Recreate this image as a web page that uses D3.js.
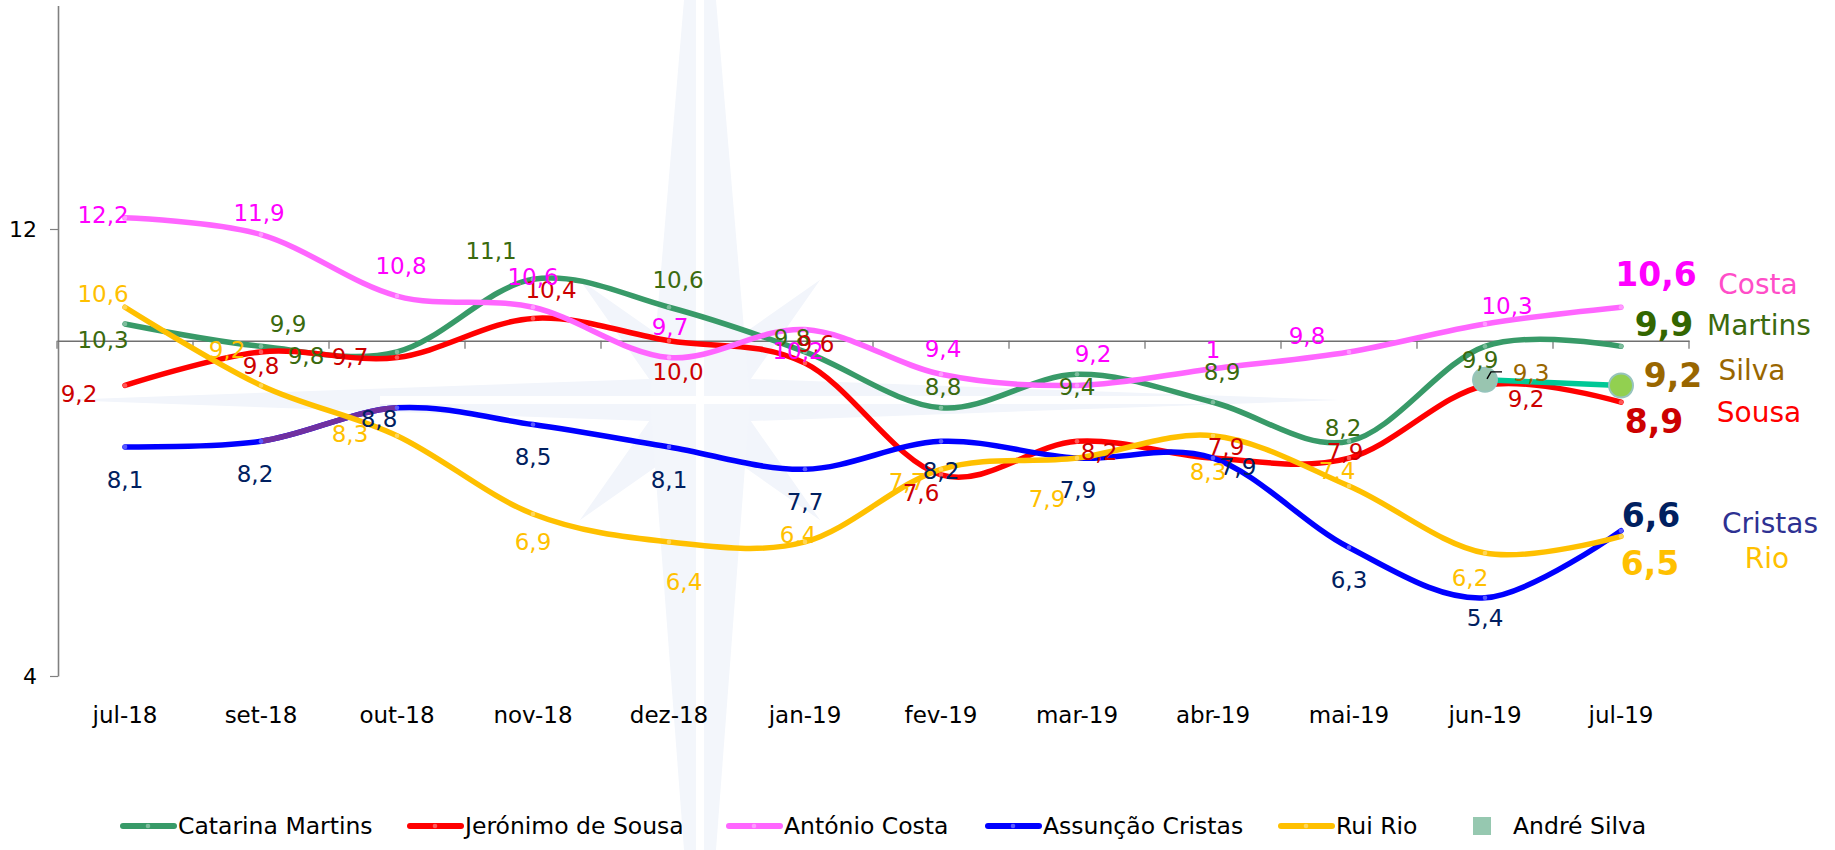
<!DOCTYPE html>
<html>
<head>
<meta charset="utf-8">
<script src="https://cdn.jsdelivr.net/npm/d3@7"></script>
<style>
    body { margin: 0; background: #fff; }
    svg { display: block; font-family: "DejaVu Sans", Verdana, sans-serif; }
</style>
</head>
<body>
<script>
// months on the category axis
const months = ['jul-18', 'set-18', 'out-18', 'nov-18', 'dez-18', 'jan-19', 'fev-19', 'mar-19', 'abr-19', 'mai-19', 'jun-19', 'jul-19'];

// poll values per leader
const martins = [10.3, 9.9, 9.8, 11.1, 10.6, 9.8, 8.8, 9.4, 8.9, 8.2, 9.9, 9.9];
const sousa = [9.2, 9.8, 9.7, 10.4, 10.0, 9.6, 7.6, 8.2, 7.9, 7.9, 9.2, 8.9];
const costa = [12.2, 11.9, 10.8, 10.6, 9.7, 10.2, 9.4, 9.2, 9.5, 9.8, 10.3, 10.6];
const cristas = [8.1, 8.2, 8.8, 8.5, 8.1, 7.7, 8.2, 7.9, 7.9, 6.3, 5.4, 6.6];
const rio = [10.6, 9.2, 8.3, 6.9, 6.4, 6.4, 7.7, 7.9, 8.3, 7.4, 6.2, 6.5];
const silva = [null, null, null, null, null, null, null, null, null, null, 9.3, 9.2];

const yTicks = [4, 12];

// label nudges (px) from each point, hand placed like the original
const martinsNudge = [[-22, 16], [27, -22], [-91, 4], [-42, -28], [9, -27], [-13, -14], [2, -21], [0, 13], [9, -30], [-6, -13], [-5, 14]];
const sousaNudge = [[-46, 9], [0, 14], [-47, -1], [18, -28], [9, 31], [11, -19], [-20, 18], [22, 11], [13, -11], [-4, -6], [41, 14]];
const costaNudge = [[-22, -3], [-2, -22], [4, -30], [0, -30], [1, -31], [-7, 21], [2, -25], [16, -31], [0, -19], [-42, -16], [22, -18]];
const cristasNudge = [[0, 33], [-6, 33], [-18, 11], [0, 32], [0, 33], [0, 33], [0, 30], [1, 32], [25, 9], [0, 33], [0, 20]];
const rioNudge = [[-22, -13], [-34, -35], [-47, -2], [0, 28], [15, 40], [-7, -7], [-34, 13], [-30, 41], [-5, 36], [-12, -15], [-15, 25]];
const silvaNudge = [null, null, null, null, null, null, null, null, null, null, [46, -7]];

// the odd "1" label on Costa in April
const labelOverride = { 'Costa|8': '1' };

// legend item left edges
const legendX = [120, 407, 726, 985, 1278, 1473];

const series = [
    { name: 'Catarina Martins', short: 'Martins', values: martins, nudge: martinsNudge, line: '#389a68', text: '#3b6a0e', endText: '#336600', nameText: '#3b6a0e', end: [43, -22], tag: [138, -21] },
    { name: 'Jerónimo de Sousa', short: 'Sousa', values: sousa, nudge: sousaNudge, line: '#ff0000', text: '#cc0000', endText: '#cc0000', nameText: '#ff0000', end: [33, 19], tag: [138, 10] },
    { name: 'António Costa', short: 'Costa', values: costa, nudge: costaNudge, line: '#ff66ff', text: '#ff00ff', endText: '#ff00ff', nameText: '#ff4dc8', end: [35, -33], tag: [137, -23] },
    { name: 'Assunção Cristas', short: 'Cristas', values: cristas, nudge: cristasNudge, line: '#0000ff', text: '#002060', endText: '#002060', nameText: '#2e3192', end: [30, -15], tag: [149, -7] },
    { name: 'Rui Rio', short: 'Rio', values: rio, nudge: rioNudge, line: '#ffc000', text: '#ffc000', endText: '#ffc000', nameText: '#ffc000', end: [29, 27], tag: [146, 22] },
    { name: 'André Silva', short: 'Silva', values: silva, nudge: silvaNudge, line: '#00c896', text: '#996600', endText: '#996600', nameText: '#996600', end: [52, -10], tag: [131, -15] }
];

const width = 1835, height = 850;

const svg = d3.select('body').append('svg')
    .attr('width', width)
    .attr('height', height);

const x = d3.scaleBand().domain(months).range([57, 1689]);
const y = d3.scaleLinear().domain([4, 16]).range([676, 5.5]);
const cx = m => x(m) + x.bandwidth() / 2;

const fmt = v => d3.format('.1f')(v).replace('.', ',');

// faint compass watermark behind the plot
const wm = svg.append('g').attr('class', 'watermark');
const wc = [700, 400];
const star = [];
const rays = [[0, 430], [45, 170], [90, 640], [135, 170], [180, 450], [225, 170], [270, 640], [315, 170]];
rays.forEach(([deg, r]) => {
    const a = (deg - 90) * Math.PI / 180;
    star.push([wc[0] + Math.cos(a) * r, wc[1] + Math.sin(a) * r]);
    const b = (deg - 90 + 22.5) * Math.PI / 180;
    star.push([wc[0] + Math.cos(b) * 55, wc[1] + Math.sin(b) * 55]);
});
wm.append('path')
    .attr('d', 'M' + star.join('L') + 'Z')
    .attr('fill', '#f2f5fb');
// the tall spike runs off the top and bottom
wm.append('path')
    .attr('d', `M${wc[0] - 16},0L${wc[0] + 16},0L${wc[0] + 50},${wc[1]}L${wc[0] + 16},${height}L${wc[0] - 16},${height}L${wc[0] - 50},${wc[1]}Z`)
    .attr('fill', '#f3f6fb');
wm.append('rect').attr('x', wc[0] - 4).attr('y', 0).attr('width', 8).attr('height', height).attr('fill', '#fff');
wm.append('rect').attr('x', 380).attr('y', wc[1] - 4).attr('width', 820).attr('height', 8).attr('fill', '#fff');

// y axis
const yAxis = svg.append('g')
    .attr('transform', 'translate(58,0)')
    .call(d3.axisLeft(y).tickValues(yTicks).tickFormat(d3.format('d')).tickSize(8).tickPadding(13).tickSizeOuter(0));
yAxis.select('.domain').attr('stroke', '#808080').attr('stroke-width', 1.6);
yAxis.selectAll('.tick line').attr('stroke', '#808080').attr('stroke-width', 1.2);
yAxis.selectAll('.tick text').attr('font-size', 22).attr('fill', '#000').attr('font-family', 'DejaVu Sans');

// category axis crossing at 10, labels sit at the bottom
const y0 = y(10);
const xAxis = svg.append('g')
    .attr('transform', `translate(0,${y0})`)
    .call(d3.axisBottom(x).tickSize(0).tickPadding(366).tickSizeOuter(0));
xAxis.select('.domain').attr('stroke', '#707070').attr('stroke-width', 1.6);
xAxis.selectAll('.tick text').attr('font-size', 23).attr('fill', '#000').attr('font-family', 'DejaVu Sans');

const bounds = months.map(m => x(m)).concat([x(months[months.length - 1]) + x.bandwidth()]);
svg.append('g').selectAll('line')
    .data(bounds)
    .enter().append('line')
    .attr('x1', d => d).attr('x2', d => d)
    .attr('y1', y0).attr('y2', y0 + 8)
    .attr('stroke', '#707070')
    .attr('stroke-width', 1.2);

// smoothed lines like excel
const line = d3.line()
    .defined(d => d.v != null)
    .x(d => cx(d.m))
    .y(d => y(d.v))
    .curve(d3.curveCardinal.tension(0));

const pts = s => s.values.map((v, i) => ({ m: months[i], v, i }));

const lines = svg.append('g').attr('class', 'lines');
series.forEach(s => {
    lines.append('path')
        .datum(pts(s))
        .attr('d', line)
        .attr('fill', 'none')
        .attr('stroke', s.line)
        .attr('stroke-width', 5.5)
        .attr('stroke-linecap', 'round')
        .attr('stroke-linejoin', 'round');

    if (s.short === 'Cristas') {
        // one segment (set-18 -> out-18) was recoloured purple
        svg.append('clipPath').attr('id', 'purpleSeg')
            .append('rect')
            .attr('x', cx(months[1])).attr('y', 0)
            .attr('width', cx(months[2]) - cx(months[1])).attr('height', height);
        lines.append('path')
            .datum(pts(s).slice(0, 4))
            .attr('d', line)
            .attr('clip-path', 'url(#purpleSeg)')
            .attr('fill', 'none')
            .attr('stroke', '#7030a0')
            .attr('stroke-width', 5.5);
    }

    if (s.short !== 'Silva') {
        lines.append('g').selectAll('circle')
            .data(pts(s).filter(d => d.v != null))
            .enter().append('circle')
            .attr('cx', d => cx(d.m))
            .attr('cy', d => y(d.v))
            .attr('r', 2.3)
            .attr('fill', d3.interpolateRgb(s.line, '#ffffff')(0.35));
    }
});

// André Silva markers
const silvaS = series[5];
const silvaPts = pts(silvaS).filter(d => d.v != null);
lines.append('g').selectAll('circle')
    .data(silvaPts)
    .enter().append('circle')
    .attr('cx', d => cx(d.m))
    .attr('cy', d => y(d.v))
    .attr('r', 12)
    .attr('fill', (d, i) => i === 0 ? '#99c5b0' : '#92d050')
    .attr('stroke', '#96c4bc')
    .attr('stroke-width', 2);

// little leader on the 9,3 label
const sp = silvaPts[0];
lines.append('path')
    .attr('d', `M${cx(sp.m) + 2},${y(sp.v) - 1}L${cx(sp.m) + 6},${y(sp.v) - 8}L${cx(sp.m) + 17},${y(sp.v) - 8}`)
    .attr('fill', 'none')
    .attr('stroke', '#000')
    .attr('stroke-width', 1.4);

// data labels
const labels = svg.append('g').attr('class', 'labels');
series.forEach(s => {
    const last = s.values.length - 1;
    const d = pts(s).filter(p => p.v != null && p.i < last);
    labels.append('g').selectAll('text')
        .data(d)
        .enter().append('text')
        .attr('x', p => cx(p.m) + s.nudge[p.i][0])
        .attr('y', p => y(p.v) + s.nudge[p.i][1])
        .attr('text-anchor', 'middle')
        .attr('dominant-baseline', 'central')
        .attr('font-size', 23)
        .attr('fill', s.text)
        .text(p => labelOverride[s.short + '|' + p.i] || fmt(p.v));

    // end value and surname on the right
    const lx = cx(months[last]), ly = y(s.values[last]);
    labels.append('text')
        .attr('x', lx + s.end[0])
        .attr('y', ly + s.end[1])
        .attr('text-anchor', 'middle')
        .attr('dominant-baseline', 'central')
        .attr('font-size', 33)
        .attr('font-weight', 'bold')
        .attr('fill', s.endText)
        .text(fmt(s.values[last]));
    labels.append('text')
        .attr('x', lx + s.tag[0])
        .attr('y', ly + s.tag[1])
        .attr('text-anchor', 'middle')
        .attr('dominant-baseline', 'central')
        .attr('font-size', 28)
        .attr('fill', s.nameText)
        .text(s.short);
});

// legend
const legend = svg.append('g').attr('class', 'legend').attr('transform', 'translate(0,826)');
series.forEach((s, i) => {
    const g = legend.append('g').attr('transform', `translate(${legendX[i]},0)`);
    let w;
    if (s.short === 'Silva') {
        g.append('rect').attr('x', 0).attr('y', -9).attr('width', 18).attr('height', 18).attr('fill', '#96c8b0');
        w = 40;
    } else {
        g.append('line').attr('x1', 3).attr('x2', 54).attr('y1', 0).attr('y2', 0)
            .attr('stroke', s.line).attr('stroke-width', 6).attr('stroke-linecap', 'round');
        g.append('circle').attr('cx', 28).attr('cy', 0).attr('r', 2.3)
            .attr('fill', d3.interpolateRgb(s.line, '#ffffff')(0.35));
        w = 58;
    }
    g.append('text')
        .attr('x', w)
        .attr('y', 0)
        .attr('dominant-baseline', 'central')
        .attr('font-size', 23.5)
        .attr('fill', '#000')
        .text(s.name);
});
</script>
</body>
</html>
